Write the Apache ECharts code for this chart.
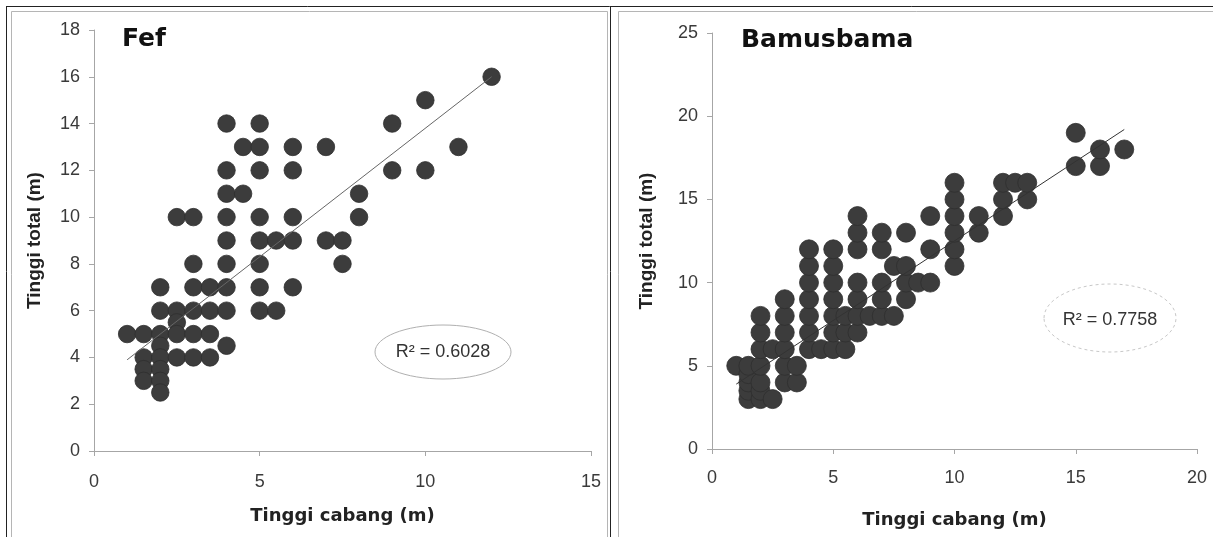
<!DOCTYPE html>
<html>
<head>
<meta charset="utf-8">
<script src="https://cdn.jsdelivr.net/npm/echarts@6/dist/echarts.min.js"></script>
<style>
  html, body { margin: 0; padding: 0; background: #fff; }
  #chart { width: 1213px; height: 537px; }
</style>
</head>
<body>
<div id="chart"></div>
<script>
// ===== 数据 =====
// Fef: [tinggi cabang, tinggi total]
const fefPoints = [
  [12, 16], [10, 15],
  [4, 14], [5, 14], [9, 14],
  [4.5, 13], [5, 13], [6, 13], [7, 13], [11, 13],
  [4, 12], [5, 12], [6, 12], [9, 12], [10, 12],
  [4, 11], [4.5, 11], [8, 11],
  [2.5, 10], [3, 10], [4, 10], [5, 10], [6, 10], [8, 10],
  [4, 9], [5, 9], [5.5, 9], [6, 9], [7, 9], [7.5, 9],
  [3, 8], [4, 8], [5, 8], [7.5, 8],
  [2, 7], [3, 7], [3.5, 7], [4, 7], [5, 7], [6, 7],
  [2, 6], [2.5, 6], [3, 6], [3.5, 6], [4, 6], [5, 6], [5.5, 6],
  [2.5, 5.5],
  [1, 5], [1.5, 5], [2, 5], [2.5, 5], [3, 5], [3.5, 5],
  [2, 4.5], [4, 4.5],
  [1.5, 4], [2, 4], [2.5, 4], [3, 4], [3.5, 4],
  [1.5, 3.5], [2, 3.5], [1.5, 3], [2, 3], [2, 2.5]
];
const fefTrendX = [1, 12];
const fefTrendY = [3.9, 16.0];
const fefR2 = "R² = 0.6028";

// Bamusbama
const bamPoints = [
  [1, 5],
  [1.5, 3], [1.5, 3.5], [1.5, 4], [1.5, 4.5], [1.5, 5],
  [2, 3], [2, 3.5], [2, 4], [2, 5], [2, 6], [2, 7], [2, 8],
  [2.5, 3], [2.5, 6],
  [3, 4], [3, 5], [3, 6], [3, 7], [3, 8], [3, 9],
  [3.5, 4], [3.5, 5],
  [4, 6], [4, 7], [4, 8], [4, 9], [4, 10], [4, 11], [4, 12],
  [4.5, 6],
  [5, 6], [5, 7], [5, 8], [5, 9], [5, 10], [5, 11], [5, 12],
  [5.5, 6], [5.5, 7], [5.5, 8],
  [6, 7], [6, 8], [6, 9], [6, 10], [6, 12], [6, 13], [6, 14],
  [6.5, 8],
  [7, 8], [7, 9], [7, 10], [7, 12], [7, 13],
  [7.5, 8], [7.5, 11],
  [8, 9], [8, 10], [8, 11], [8, 13],
  [8.5, 10],
  [9, 10], [9, 12], [9, 14],
  [10, 11], [10, 12], [10, 13], [10, 14], [10, 15], [10, 16],
  [11, 13], [11, 14],
  [12, 14], [12, 15], [12, 16], [12.5, 16],
  [13, 15], [13, 16],
  [15, 17], [15, 19],
  [16, 17], [16, 18],
  [17, 18]
];
const bamTrendX = [1, 17];
const bamTrendY = [3.9, 19.2];
const bamR2 = "R² = 0.7758";

const xTitle = "Tinggi cabang (m)";
const yTitle = "Tinggi total (m)";

// ===== 样式 =====
const DOT = "#3c3c3c";
const AXIS = "#a6a6a6";
const TICK_FONT = { color: "#3a3a3a", fontSize: 18, fontFamily: "Liberation Sans Narrow, Liberation Sans, Arial" };

function axisBase() {
  return {
    axisLine: { show: true, lineStyle: { color: AXIS, width: 1 } },
    axisTick: { show: true, inside: false, length: 5, lineStyle: { color: AXIS } },
    splitLine: { show: false },
    axisLabel: Object.assign({}, TICK_FONT),
  };
}
function xAxis(grid, max, gap, labelMargin) {
  return Object.assign(axisBase(), {
    type: "value", gridIndex: grid, min: 0, max: max, interval: 5,
    name: xTitle, nameLocation: "middle", nameGap: gap,
    nameTextStyle: { color: "#222", fontSize: 18, fontWeight: "bold", fontFamily: "DejaVu Sans" },
    axisLabel: Object.assign({}, TICK_FONT, { margin: labelMargin }),
  });
}
function yAxis(grid, max, step, gap) {
  return Object.assign(axisBase(), {
    type: "value", gridIndex: grid, min: 0, max: max, interval: step,
    name: yTitle, nameLocation: "middle", nameGap: gap, nameRotate: 90,
    nameTextStyle: { color: "#222", fontSize: 19, fontWeight: "bold", fontFamily: "Liberation Sans, Arial" },
    axisLabel: Object.assign({}, TICK_FONT, { margin: 14 }),
  });
}
const zip = (xs, ys) => xs.map((x, i) => [x, ys[i]]);

const chart = echarts.init(document.getElementById("chart"), null, { renderer: "canvas" });
chart.setOption({
  backgroundColor: "#fff",
  animation: false,
  grid: [
    { left: 94, top: 30, right: 622, bottom: 86 },
    { left: 712, top: 33, right: 16, bottom: 88 },
  ],
  xAxis: [xAxis(0, 15, 56, 22), xAxis(1, 20, 62, 20)],
  yAxis: [yAxis(0, 18, 2, 50), yAxis(1, 25, 5, 56)],
  series: [
    {
      type: "scatter", xAxisIndex: 0, yAxisIndex: 0, data: fefPoints,
      symbolSize: 17.5, itemStyle: { color: DOT, borderColor: "#2e2e2e", borderWidth: 0.8, opacity: 1 },
    },
    {
      type: "line", xAxisIndex: 0, yAxisIndex: 0, data: zip(fefTrendX, fefTrendY),
      symbol: "none", lineStyle: { color: "#666", width: 1 }, z: 3,
    },
    {
      type: "scatter", xAxisIndex: 1, yAxisIndex: 1, data: bamPoints,
      symbolSize: 19, itemStyle: { color: DOT, borderColor: "#2e2e2e", borderWidth: 0.8, opacity: 1 },
    },
    {
      type: "line", xAxisIndex: 1, yAxisIndex: 1, data: zip(bamTrendX, bamTrendY),
      symbol: "none", lineStyle: { color: "#333", width: 1 }, z: 3,
    },
  ],
  graphic: [
    // 边框
    { type: "line", shape: { x1: 6, y1: 6.5, x2: 1213, y2: 6.5 }, style: { stroke: "#222", lineWidth: 1 } },
    { type: "line", shape: { x1: 6.5, y1: 6, x2: 6.5, y2: 537 }, style: { stroke: "#222", lineWidth: 1 } },
    { type: "rect", shape: { x: 11.5, y: 11.5, width: 596, height: 530 }, style: { fill: null, stroke: "#b5b5b5", lineWidth: 1 } },
    { type: "line", shape: { x1: 610.5, y1: 6, x2: 610.5, y2: 537 }, style: { stroke: "#222", lineWidth: 1 } },
    { type: "rect", shape: { x: 618.5, y: 11.5, width: 600, height: 530 }, style: { fill: null, stroke: "#b5b5b5", lineWidth: 1 } },
    // 标题
    { type: "text", left: 122, top: 27, style: { text: "Fef", fontSize: 25, fontWeight: "bold", fontFamily: "DejaVu Sans", fill: "#111" } },
    { type: "text", left: 741, top: 28, style: { text: "Bamusbama", fontSize: 25, fontWeight: "bold", fontFamily: "DejaVu Sans", fill: "#111" } },
    // R²
    { type: "ellipse", shape: { cx: 443, cy: 352, rx: 68, ry: 27 }, style: { fill: null, stroke: "#b0b0b0", lineWidth: 1 } },
    { type: "text", x: 443, y: 352, style: { text: fefR2, fontSize: 18, fontFamily: "Liberation Sans Narrow, Liberation Sans, Arial", fill: "#333", align: "center", verticalAlign: "middle" } },
    { type: "ellipse", shape: { cx: 1110, cy: 318, rx: 66, ry: 34 }, style: { fill: null, stroke: "#c8c8c8", lineWidth: 1, lineDash: [3, 3] } },
    { type: "text", x: 1110, y: 320, style: { text: bamR2, fontSize: 18, fontFamily: "Liberation Sans Narrow, Liberation Sans, Arial", fill: "#333", align: "center", verticalAlign: "middle" } },
  ],
});
</script>
</body>
</html>
